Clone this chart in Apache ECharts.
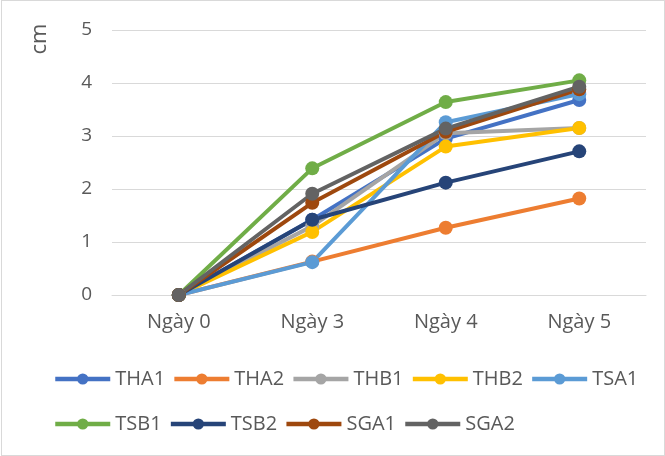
<!DOCTYPE html>
<html><head><meta charset="utf-8">
<script src="https://cdn.jsdelivr.net/npm/echarts@6/dist/echarts.min.js"></script>
<style>html,body{margin:0;padding:0;background:#fff}#c{width:665px;height:456px}
#b{position:absolute;left:1px;top:0;width:662px;height:454px;border:1px solid #d9d9d9;pointer-events:none}</style>
</head><body><div id="c"></div><div id="b"></div>
<script>
const categories = ['Ngày 0','Ngày 3','Ngày 4','Ngày 5'];
const THA1 = [0, 1.42, 2.95, 3.68];
const THA2 = [0, 0.63, 1.27, 1.82];
const THB1 = [0, 1.30, 3.05, 3.15];
const THB2 = [0, 1.19, 2.80, 3.15];
const TSA1 = [0, 0.62, 3.26, 3.79];
const TSB1 = [0, 2.39, 3.64, 4.05];
const TSB2 = [0, 1.42, 2.12, 2.71];
const SGA1 = [0, 1.74, 3.08, 3.88];
const SGA2 = [0, 1.91, 3.14, 3.93];
const names = ['THA1','THA2','THB1','THB2','TSA1','TSB1','TSB2','SGA1','SGA2'];
const values = [THA1,THA2,THB1,THB2,TSA1,TSB1,TSB2,SGA1,SGA2];
const colors = ['#4472C4','#ED7D31','#A5A5A5','#FFC000','#5B9BD5','#70AD47','#264478','#9E480E','#636363'];
const font = 'Open Sans';
const legendBase = {left:53,itemWidth:55,itemHeight:14,itemGap:7,orient:'horizontal',padding:0,
  lineStyle:{width:4.5},
  textStyle:{color:'#595959',fontSize:20,fontFamily:font,width:50}};
const chart = echarts.init(document.getElementById('c'));
chart.setOption({
  animation:false,
  color: colors,
  textStyle:{fontFamily:font},
  grid:{left:112,right:19,top:30,bottom:161},
  xAxis:{type:'category',data:categories,boundaryGap:true,
    axisLine:{lineStyle:{color:'#d9d9d9',width:1}},axisTick:{show:false},
    axisLabel:{color:'#595959',fontSize:20,margin:17,fontFamily:font}},
  yAxis:{type:'value',min:0,max:5,interval:1,
    axisLabel:{color:'#595959',fontSize:19,margin:20,fontFamily:font},
    axisLine:{show:false},axisTick:{show:false},
    splitLine:{lineStyle:{color:'#d9d9d9',width:1}}},
  legend:[
    Object.assign({},legendBase,{top:369,data:names.slice(0,5)}),
    Object.assign({},legendBase,{top:414,data:names.slice(5)})
  ],
  graphic:[{type:'text',x:40,y:39,rotation:Math.PI/2,
    style:{text:'cm',fill:'#595959',fontSize:22,fontFamily:font,align:'center',verticalAlign:'middle'}}],
  series: names.map((n,i)=>({name:n,type:'line',data:values[i],symbol:'circle',symbolSize:14,
    lineStyle:{width:4},itemStyle:{color:colors[i]}}))
});
</script></body></html>
